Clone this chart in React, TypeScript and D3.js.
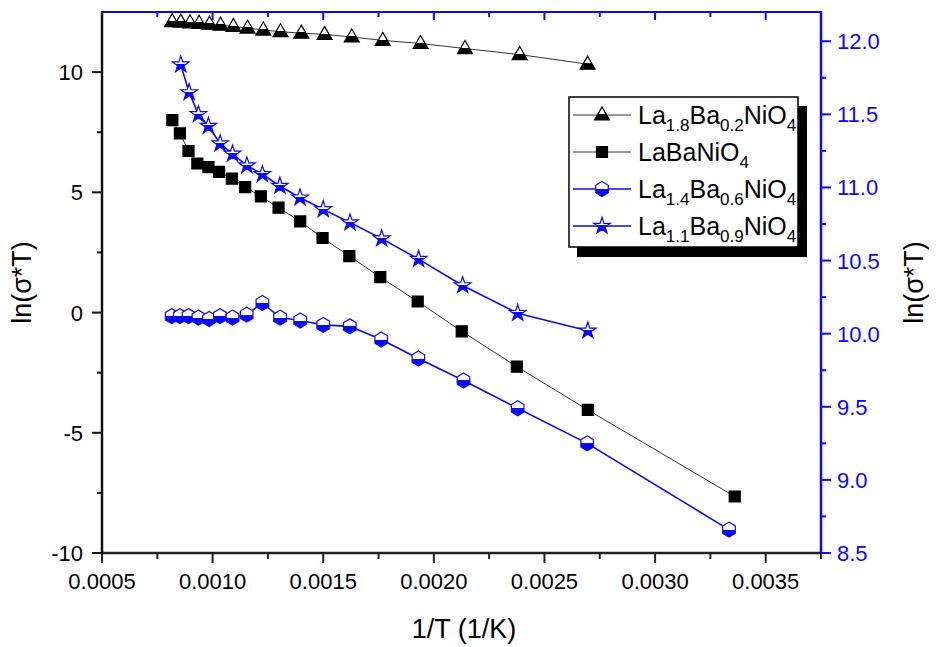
import * as d3 from "d3";

// 1/T (1/K) and ln(sigma*T) for each composition
const xLa18 = [0.000817, 0.000856, 0.000898, 0.000939, 0.000986, 0.001036, 0.001094, 0.001158, 0.001229, 0.001307, 0.001401, 0.001506, 0.001629, 0.001769, 0.00194, 0.002141, 0.002388, 0.002695];
const yLa18 = [12.1, 12.08, 12.05, 12.03, 11.99, 11.95, 11.9, 11.83, 11.75, 11.68, 11.62, 11.57, 11.46, 11.32, 11.19, 10.98, 10.73, 10.33];

const xLaBa = [0.000818, 0.000852, 0.000891, 0.000931, 0.000981, 0.001029, 0.001087, 0.001147, 0.001218, 0.001298, 0.001396, 0.001497, 0.001618, 0.001758, 0.001927, 0.002126, 0.002375, 0.002696, 0.00336];
const yLaBa = [8.0, 7.45, 6.72, 6.2, 6.05, 5.85, 5.57, 5.22, 4.83, 4.36, 3.79, 3.1, 2.35, 1.47, 0.46, -0.78, -2.25, -4.05, -7.65];

// right axis series
const xLa14 = [0.000815, 0.000852, 0.000891, 0.000936, 0.000984, 0.001033, 0.00109, 0.001154, 0.001225, 0.001305, 0.001396, 0.0015, 0.00162, 0.001762, 0.00193, 0.002134, 0.002379, 0.002693, 0.003334];
const yLa14 = [10.12, 10.12, 10.12, 10.11, 10.1, 10.12, 10.11, 10.13, 10.21, 10.11, 10.09, 10.06, 10.05, 9.96, 9.83, 9.68, 9.49, 9.25, 8.66];

const xLa11 = [0.000856, 0.000894, 0.000936, 0.000981, 0.001034, 0.00109, 0.001155, 0.001225, 0.001304, 0.001395, 0.0015, 0.001621, 0.001764, 0.001931, 0.00213, 0.002379, 0.002696];
const yLa11 = [11.84, 11.65, 11.5, 11.42, 11.3, 11.23, 11.15, 11.09, 11.01, 10.93, 10.85, 10.76, 10.65, 10.51, 10.33, 10.14, 10.02];

const xTicks = [0.0005, 0.001, 0.0015, 0.002, 0.0025, 0.003, 0.0035];
const xMinor = [0.00075, 0.00125, 0.00175, 0.00225, 0.00275, 0.00325, 0.00375];
const yTicksL = [-10, -5, 0, 5, 10];
const yMinorL = [-7.5, -2.5, 2.5, 7.5];
const yTicksR = [8.5, 9.0, 9.5, 10.0, 10.5, 11.0, 11.5, 12.0];
const yMinorR = [8.75, 9.25, 9.75, 10.25, 10.75, 11.25, 11.75];

const BLUE = "#0a0af0";
const FONT = "'Liberation Sans', Arial, sans-serif";

const left = 102, right = 821, top = 12, bottom = 553;

const x = d3.scaleLinear().domain([0.0005, 0.00375]).range([left, right]);
const yL = d3.scaleLinear().domain([-10, 12.5]).range([bottom, top]);
const yR = d3.scaleLinear().domain([8.5, 12.2]).range([bottom, top]);

const triPath = "M0,-8L7.5,5L-7.5,5Z";
const sqPath = "M-5.5,-5.5H5.5V5.5H-5.5Z";
const hexPath = "M0,-7.5L6.3,-3.7L6.3,3.7L0,7.5L-6.3,3.7L-6.3,-3.7Z";
const starPath = d3.symbol(d3.symbolStar, 85)() as string;

type Series = {
  xs: number[];
  ys: number[];
  y: d3.ScaleLinear<number, number>;
  stroke: string;
  width: number;
  marker: string;
  fill: string;
  markStroke: string;
  sub: [string, string, string];
};

const series: Series[] = [
  { xs: xLa18, ys: yLa18, y: yL, stroke: "#333", width: 1, marker: triPath, fill: "url(#halfBlack)", markStroke: "#000", sub: ["1.8", "0.2", "4"] },
  { xs: xLaBa, ys: yLaBa, y: yL, stroke: "#333", width: 1, marker: sqPath, fill: "#000", markStroke: "#000", sub: ["", "", "4"] },
  { xs: xLa14, ys: yLa14, y: yR, stroke: BLUE, width: 1.6, marker: hexPath, fill: "url(#halfBlue)", markStroke: BLUE, sub: ["1.4", "0.6", "4"] },
  { xs: xLa11, ys: yLa11, y: yR, stroke: BLUE, width: 1.6, marker: starPath, fill: "url(#halfBlue)", markStroke: BLUE, sub: ["1.1", "0.9", "4"] },
];

const fmtX = d3.format(".4f");
const fmtR = d3.format(".1f");

function Formula({ sub }: { sub: [string, string, string] }) {
  const s = { fontSize: 17 };
  return (
    <>
      {"La"}
      {sub[0] && <tspan dy={7} style={s}>{sub[0]}</tspan>}
      <tspan dy={sub[0] ? -7 : 0}>Ba</tspan>
      {sub[1] && <tspan dy={7} style={s}>{sub[1]}</tspan>}
      <tspan dy={sub[1] ? -7 : 0}>NiO</tspan>
      <tspan dy={7} style={s}>{sub[2]}</tspan>
    </>
  );
}

export default function App() {
  return (
    <svg width={936} height={647} style={{ position: "absolute", left: 0, top: 0, background: "#fff" }} fontFamily={FONT}>
      <defs>
        <linearGradient id="halfBlack" x1="0" y1="0" x2="0" y2="1">
          <stop offset="0.55" stopColor="#fff" />
          <stop offset="0.55" stopColor="#000" />
        </linearGradient>
        <linearGradient id="halfBlue" x1="0" y1="0" x2="0" y2="1">
          <stop offset="0.5" stopColor="#fff" />
          <stop offset="0.5" stopColor={BLUE} />
        </linearGradient>
      </defs>

      {/* data lines */}
      {series.map((s, i) => {
        const line = d3.line<number>().x((_, j) => x(s.xs[j])).y((v) => s.y(v));
        return <path key={i} d={line(s.ys) ?? ""} fill="none" stroke={s.stroke} strokeWidth={s.width} />;
      })}
      {/* markers */}
      {series.map((s, i) => (
        <g key={i}>
          {s.ys.map((v, j) => (
            <path key={j} d={s.marker} transform={`translate(${x(s.xs[j])},${s.y(v)})`} fill={s.fill} stroke={s.markStroke} strokeWidth={1.2} />
          ))}
        </g>
      ))}

      {/* bottom axis */}
      <line x1={left} x2={right} y1={bottom} y2={bottom} stroke="#222" strokeWidth={2.5} />
      {xTicks.map((t) => (
        <g key={t}>
          <line x1={x(t)} x2={x(t)} y1={bottom} y2={bottom + 10} stroke="#222" strokeWidth={2} />
          <text x={x(t)} y={589} textAnchor="middle" fontSize={22}>{fmtX(t)}</text>
        </g>
      ))}
      {xMinor.map((t) => (
        <line key={t} x1={x(t)} x2={x(t)} y1={bottom} y2={bottom + 6} stroke="#222" strokeWidth={2} />
      ))}
      <text x={464} y={638} textAnchor="middle" fontSize={27}>1/T (1/K)</text>

      {/* top axis */}
      <line x1={left} x2={right} y1={top} y2={top} stroke={BLUE} strokeWidth={2} />
      {xTicks.map((t) => (
        <line key={t} x1={x(t)} x2={x(t)} y1={top} y2={top + 8} stroke={BLUE} strokeWidth={2} />
      ))}
      {xMinor.map((t) => (
        <line key={t} x1={x(t)} x2={x(t)} y1={top} y2={top + 5} stroke={BLUE} strokeWidth={2} />
      ))}

      {/* left axis */}
      <line x1={left} x2={left} y1={top - 1} y2={bottom + 1} stroke="#111" strokeWidth={2.5} />
      {yTicksL.map((t) => (
        <g key={t}>
          <line x1={left - 10} x2={left} y1={yL(t)} y2={yL(t)} stroke="#111" strokeWidth={2} />
          <text x={left - 19} y={yL(t) + 8} textAnchor="end" fontSize={22}>{t}</text>
        </g>
      ))}
      {yMinorL.map((t) => (
        <line key={t} x1={left - 5} x2={left} y1={yL(t)} y2={yL(t)} stroke="#111" strokeWidth={2} />
      ))}
      <text transform={`translate(31,${(top + bottom) / 2}) rotate(-90)`} textAnchor="middle" fontSize={27}>ln(σ*T)</text>

      {/* right axis */}
      <line x1={right} x2={right} y1={top - 1} y2={bottom + 1} stroke={BLUE} strokeWidth={2.5} />
      {yTicksR.map((t) => (
        <g key={t}>
          <line x1={right} x2={right + 10} y1={yR(t)} y2={yR(t)} stroke={BLUE} strokeWidth={2} />
          <text x={right + 16} y={yR(t) + 8} fontSize={22} fill={BLUE}>{fmtR(t)}</text>
        </g>
      ))}
      {yMinorR.map((t) => (
        <line key={t} x1={right} x2={right + 5} y1={yR(t)} y2={yR(t)} stroke={BLUE} strokeWidth={2} />
      ))}
      <text transform={`translate(923,${(top + bottom) / 2}) rotate(-90)`} textAnchor="middle" fontSize={27}>ln(σ*T)</text>

      {/* legend */}
      <rect x={577} y={106} width={230} height={151} fill="#000" />
      <rect x={569} y={97} width={229} height={150} fill="#fff" stroke="#000" strokeWidth={1.5} />
      {series.map((s, i) => {
        const cy = 115 + i * 37;
        return (
          <g key={i}>
            <line x1={573} x2={631} y1={cy} y2={cy} stroke={s.stroke} strokeWidth={s.width} />
            <path d={s.marker} transform={`translate(602,${cy})`} fill={s.fill} stroke={s.markStroke} strokeWidth={1.2} />
            <text x={638} y={cy + 9} fontSize={25}>
              <Formula sub={s.sub} />
            </text>
          </g>
        );
      })}
    </svg>
  );
}
